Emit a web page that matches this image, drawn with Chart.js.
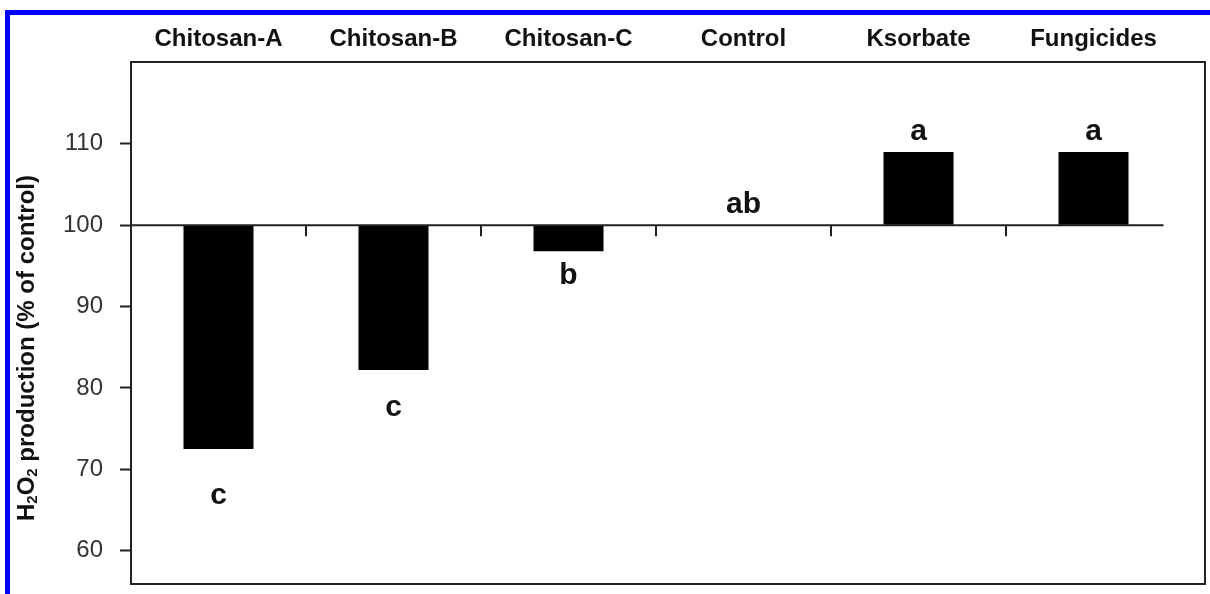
<!DOCTYPE html>
<html>
<head>
<meta charset="utf-8">
<script src="https://cdn.jsdelivr.net/npm/chart.js@4/dist/chart.umd.min.js"></script>
<style>
body { margin: 0; background: #fff; }
#wrap { position: relative; width: 1210px; height: 594px; }
#frame { position: absolute; left: 5px; top: 10px; right: 0; bottom: 0;
  border-top: 5px solid #0000ff; border-left: 5px solid #0000ff; pointer-events: none; }
</style>
</head>
<body>
<div id="wrap">
  <canvas id="myChart" width="1210" height="594"></canvas>
  <div id="frame"></div>
</div>
<script>
var categories = ['Chitosan-A', 'Chitosan-B', 'Chitosan-C', 'Control', 'Ksorbate', 'Fungicides'];
var h2o2Values = [72.5, 82.2, 96.8, 100, 109, 109];
var letters = ['c', 'c', 'b', 'ab', 'a', 'a'];
var yTicks = [60, 70, 80, 90, 100, 110];
var controlLevel = 100;

Chart.defaults.font.family = '"Liberation Sans", Arial, sans-serif';

// box, baseline at control level, significance letters, y title
var extras = {
    id: 'extras',
    afterDatasetsDraw: function(chart) {
        var ctx = chart.ctx;
        var a = chart.chartArea;
        var x = chart.scales.x;
        var y = chart.scales.y;
        var y0 = y.getPixelForValue(controlLevel);
        var step = x.getPixelForValue(1) - x.getPixelForValue(0);

        ctx.save();
        ctx.strokeStyle = '#222';
        ctx.lineWidth = 2;
        ctx.strokeRect(a.left, a.top, 1205 - a.left, a.bottom - a.top);

        ctx.beginPath();
        ctx.moveTo(a.left, y0);
        ctx.lineTo(x.getPixelForValue(categories.length - 1) + step * 0.4, y0);
        for (var i = 0; i < categories.length - 1; i++) {
            var bx = (x.getPixelForValue(i) + x.getPixelForValue(i + 1)) / 2;
            ctx.moveTo(bx, y0);
            ctx.lineTo(bx, y0 + 11);
        }
        ctx.stroke();

        ctx.fillStyle = '#111';
        ctx.font = 'bold 30px "Liberation Sans", Arial, sans-serif';
        ctx.textAlign = 'center';
        ctx.textBaseline = 'alphabetic';
        letters.forEach(function(l, i) {
            var yEnd = y.getPixelForValue(h2o2Values[i]);
            var ly = h2o2Values[i] >= controlLevel ? yEnd - 12 : yEnd + 30 + 0.11 * (yEnd - y0);
            ctx.fillText(l, x.getPixelForValue(i), ly);
        });

        // y axis title with real subscripts
        var main = 'bold 24px "Liberation Sans", Arial, sans-serif';
        var sub = 'bold 15px "Liberation Sans", Arial, sans-serif';
        var parts = [['H', main, 0], ['2', sub, 6], ['O', main, 0], ['2', sub, 6], [' production (% of control)', main, 0]];
        ctx.translate(27, 348);
        ctx.rotate(-Math.PI / 2);
        ctx.textAlign = 'left';
        ctx.textBaseline = 'middle';
        var total = 0;
        parts.forEach(function(p) { ctx.font = p[1]; total += ctx.measureText(p[0]).width; });
        var tx = -total / 2;
        parts.forEach(function(p) {
            ctx.font = p[1];
            ctx.fillText(p[0], tx, p[2]);
            tx += ctx.measureText(p[0]).width;
        });
        ctx.restore();
    }
};

var canvas = document.getElementById('myChart');
var ctx = canvas.getContext('2d');

var myChart = new Chart(ctx, {
    type: 'bar',
    data: {
        labels: categories,
        datasets: [{
            label: 'H2O2 production',
            data: h2o2Values,
            base: controlLevel,
            backgroundColor: '#000',
            barPercentage: 0.4,
            categoryPercentage: 1
        }]
    },
    options: {
        responsive: false,
        animation: false,
        layout: { padding: { left: 0, right: 29, top: 0, bottom: 10 } },
        plugins: {
            legend: { display: false },
            tooltip: { enabled: false }
        },
        scales: {
            x: {
                position: 'top',
                grid: { display: false, drawTicks: false },
                border: { display: false },
                ticks: {
                    color: '#111',
                    font: { size: 24, weight: 'bold' },
                    padding: 8,
                    maxRotation: 0,
                    autoSkip: false
                },
                afterFit: function(s) { s.height = 62; s.paddingLeft = 0; s.paddingRight = 0; }
            },
            y: {
                min: 55.9,
                max: 120.06,
                grid: {
                    drawOnChartArea: false,
                    drawTicks: true,
                    tickLength: 11,
                    tickWidth: 2,
                    tickColor: '#222'
                },
                border: { display: false },
                ticks: {
                    color: '#333',
                    font: { size: 24 },
                    padding: 17
                },
                afterBuildTicks: function(s) {
                    s.ticks = yTicks.map(function(v) { return { value: v }; });
                },
                afterFit: function(s) { s.width = 131; s.paddingTop = 0; s.paddingBottom = 0; }
            }
        }
    },
    plugins: [extras]
});
</script>
</body>
</html>
